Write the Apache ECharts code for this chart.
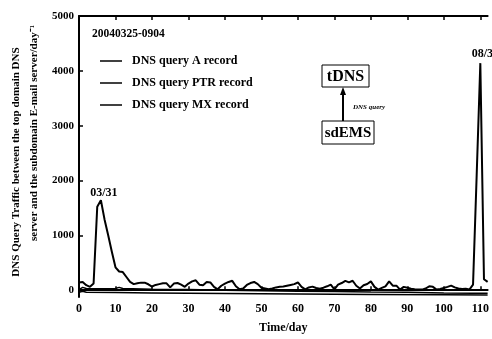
<!DOCTYPE html>
<html>
<head>
<meta charset="utf-8">
<script src="https://cdn.jsdelivr.net/npm/echarts@6/dist/echarts.min.js"></script>
<style>html,body{margin:0;padding:0;background:#fff}#c{width:492px;height:339px}</style>
</head>
<body>
<div id="c"></div>
<script>
// ---- data ----
const seriesNames = ['DNS query A record', 'DNS query PTR record', 'DNS query MX record'];
const xTicks = [0, 10, 20, 30, 40, 50, 60, 70, 80, 90, 100, 110];
const yTicks = [0, 1000, 2000, 3000, 4000, 5000];
// A record: one value per day, day 0 .. 112
const aValues = [
  140, 150, 90, 60, 120, 1520, 1640, 1290, 1000, 700,
  416, 340, 330, 240, 150, 110, 125, 137, 137, 107,
  66, 95, 110, 125, 125, 50, 120, 130, 100, 60,
  120, 160, 180, 100, 90, 150, 140, 60, 15, 80,
  120, 150, 170, 70, 15, 30, 95, 130, 150, 110,
  45, 30, 15, 30, 50, 60, 65, 80, 95, 110,
  140, 60, 15, 50, 64, 40, 25, 45, 70, 100,
  15, 100, 130, 170, 143, 171, 80, 30, 90, 112,
  160, 60, 10, 40, 70, 160, 82, 82, 10, 60,
  45, 25, 15, 10, 10, 30, 70, 60, 10, 20,
  40, 60, 82, 50, 30, 20, 25, 10, 100, 2100,
  4140, 200, 150
];
const ptrDays   = [0, 1, 2, 5, 10, 11, 12, 20, 30, 40, 50, 60, 70, 80, 90, 100, 108, 112];
const ptrValues = [10, 50, 30, 25, 30, 50, 30, 15, 10, 0, -10, -20, -25, -35, -40, -50, -55, -55];
const mxDays    = [0, 1, 2, 10, 20, 40, 60, 80, 100, 112];
const mxValues  = [-40, -20, -40, -45, -50, -60, -70, -80, -85, -90];
const peakDays   = [6, 110];
const peakLabels = ['03/31', '08/31'];

const FONT = 'Liberation Serif';
const chart = echarts.init(document.getElementById('c'), null, { renderer: 'canvas' });

const option = {
  backgroundColor: '#fff',
  animation: false,
  title: {
    text: '20040325-0904', left: 92, top: 28, padding: 0,
    textStyle: { fontFamily: FONT, fontWeight: 'bold', fontSize: 11.5, color: '#000' }
  },
  legend: {
    orient: 'vertical', left: 100, top: 55, itemGap: 10, padding: 0,
    itemWidth: 22, itemHeight: 1.5, icon: 'rect',
    data: seriesNames,
    textStyle: { fontFamily: FONT, fontWeight: 'bold', fontSize: 12, color: '#000', padding: [0, 0, 0, 5] }
  },
  grid: { left: 79, top: 16, width: 414, height: 286 },
  xAxis: [{
    type: 'value', min: 0, max: 112, position: 'bottom',
    axisLine: { lineStyle: { color: '#000', width: 2 } },
    axisTick: { inside: true, length: 4, lineStyle: { color: '#000', width: 1.5 }, customValues: xTicks },
    axisLabel: { customValues: xTicks, color: '#000', fontFamily: FONT, fontWeight: 'bold', fontSize: 12, margin: 6 },
    splitLine: { show: false },
    name: 'Time/day', nameLocation: 'middle', nameGap: 25,
    nameTextStyle: { fontFamily: FONT, fontWeight: 'bold', fontSize: 12, color: '#000' }
  }, {
    type: 'value', min: 0, max: 112, position: 'top',
    axisLine: { lineStyle: { color: '#000', width: 2 } },
    axisTick: { inside: true, length: 4, lineStyle: { color: '#000', width: 1.5 }, customValues: xTicks },
    axisLabel: { show: false },
    splitLine: { show: false }
  }],
  yAxis: {
    type: 'value', min: -125, max: 5000,
    axisLine: { show: true, lineStyle: { color: '#000', width: 2 } },
    axisTick: { show: true, inside: true, length: 4, lineStyle: { color: '#000', width: 1.5 }, customValues: yTicks },
    axisLabel: { customValues: yTicks, formatter: v => String(v), color: '#000', fontFamily: FONT, fontWeight: 'bold', fontSize: 11, margin: 5 },
    splitLine: { show: false }
  },
  series: [
    { name: seriesNames[0], type: 'line', data: aValues.map((v, i) => [i, v]), symbol: 'none', color: '#000',
      lineStyle: { color: '#000', width: 2 },
      markPoint: {
        symbol: 'circle', symbolSize: 0, silent: true,
        label: { show: true, position: 'top', distance: 1, formatter: '{b}', color: '#000',
          fontFamily: FONT, fontWeight: 'bold', fontSize: 12 },
        data: peakDays.map((d, i) => ({ name: peakLabels[i], coord: [d, aValues[d]],
          label: { offset: i === 0 ? [3, 0] : [5, -2] } }))
      } },
    { name: seriesNames[1], type: 'line', data: ptrDays.map((d, i) => [d, ptrValues[i]]), symbol: 'none', color: '#000',
      lineStyle: { color: '#000', width: 1.5 } },
    { name: seriesNames[2], type: 'line', data: mxDays.map((d, i) => [d, mxValues[i]]), symbol: 'none', color: '#000',
      lineStyle: { color: '#000', width: 1.5 } }
  ],
  graphic: [
    { type: 'text', x: 16, y: 162, rotation: Math.PI / 2,
      style: { text: 'DNS Query Traffic between the top domain DNS', fontFamily: FONT, fontWeight: 'bold', fontSize: 11,
        fill: '#000', align: 'center', verticalAlign: 'middle' } },
    { type: 'text', x: 34, y: 133, rotation: Math.PI / 2,
      style: { text: 'server and the subdomain E-mail server/day\u207B\u00B9', fontFamily: FONT, fontWeight: 'bold', fontSize: 11,
        fill: '#000', align: 'center', verticalAlign: 'middle' } },
    { type: 'rect', shape: { x: 322, y: 65, width: 47, height: 22 },
      style: { fill: '#fff', stroke: '#000', lineWidth: 1 } },
    { type: 'text', x: 345.5, y: 76.5,
      style: { text: 'tDNS', fontFamily: FONT, fontWeight: 'bold', fontSize: 16, fill: '#000', align: 'center', verticalAlign: 'middle' } },
    { type: 'rect', shape: { x: 322, y: 121, width: 52, height: 23 },
      style: { fill: '#fff', stroke: '#000', lineWidth: 1 } },
    { type: 'text', x: 348, y: 133,
      style: { text: 'sdEMS', fontFamily: FONT, fontWeight: 'bold', fontSize: 15, fill: '#000', align: 'center', verticalAlign: 'middle' } },
    { type: 'line', shape: { x1: 343, y1: 121, x2: 343, y2: 92 },
      style: { stroke: '#000', lineWidth: 2 } },
    { type: 'polygon', shape: { points: [[343, 87], [340, 95], [346, 95]] },
      style: { fill: '#000' } },
    { type: 'text', x: 353, y: 107,
      style: { text: 'DNS query', fontFamily: FONT, fontStyle: 'italic', fontWeight: 'bold', fontSize: 7, fill: '#000', align: 'left', verticalAlign: 'middle' } }
  ]
};
chart.setOption(option);
</script>
</body>
</html>
